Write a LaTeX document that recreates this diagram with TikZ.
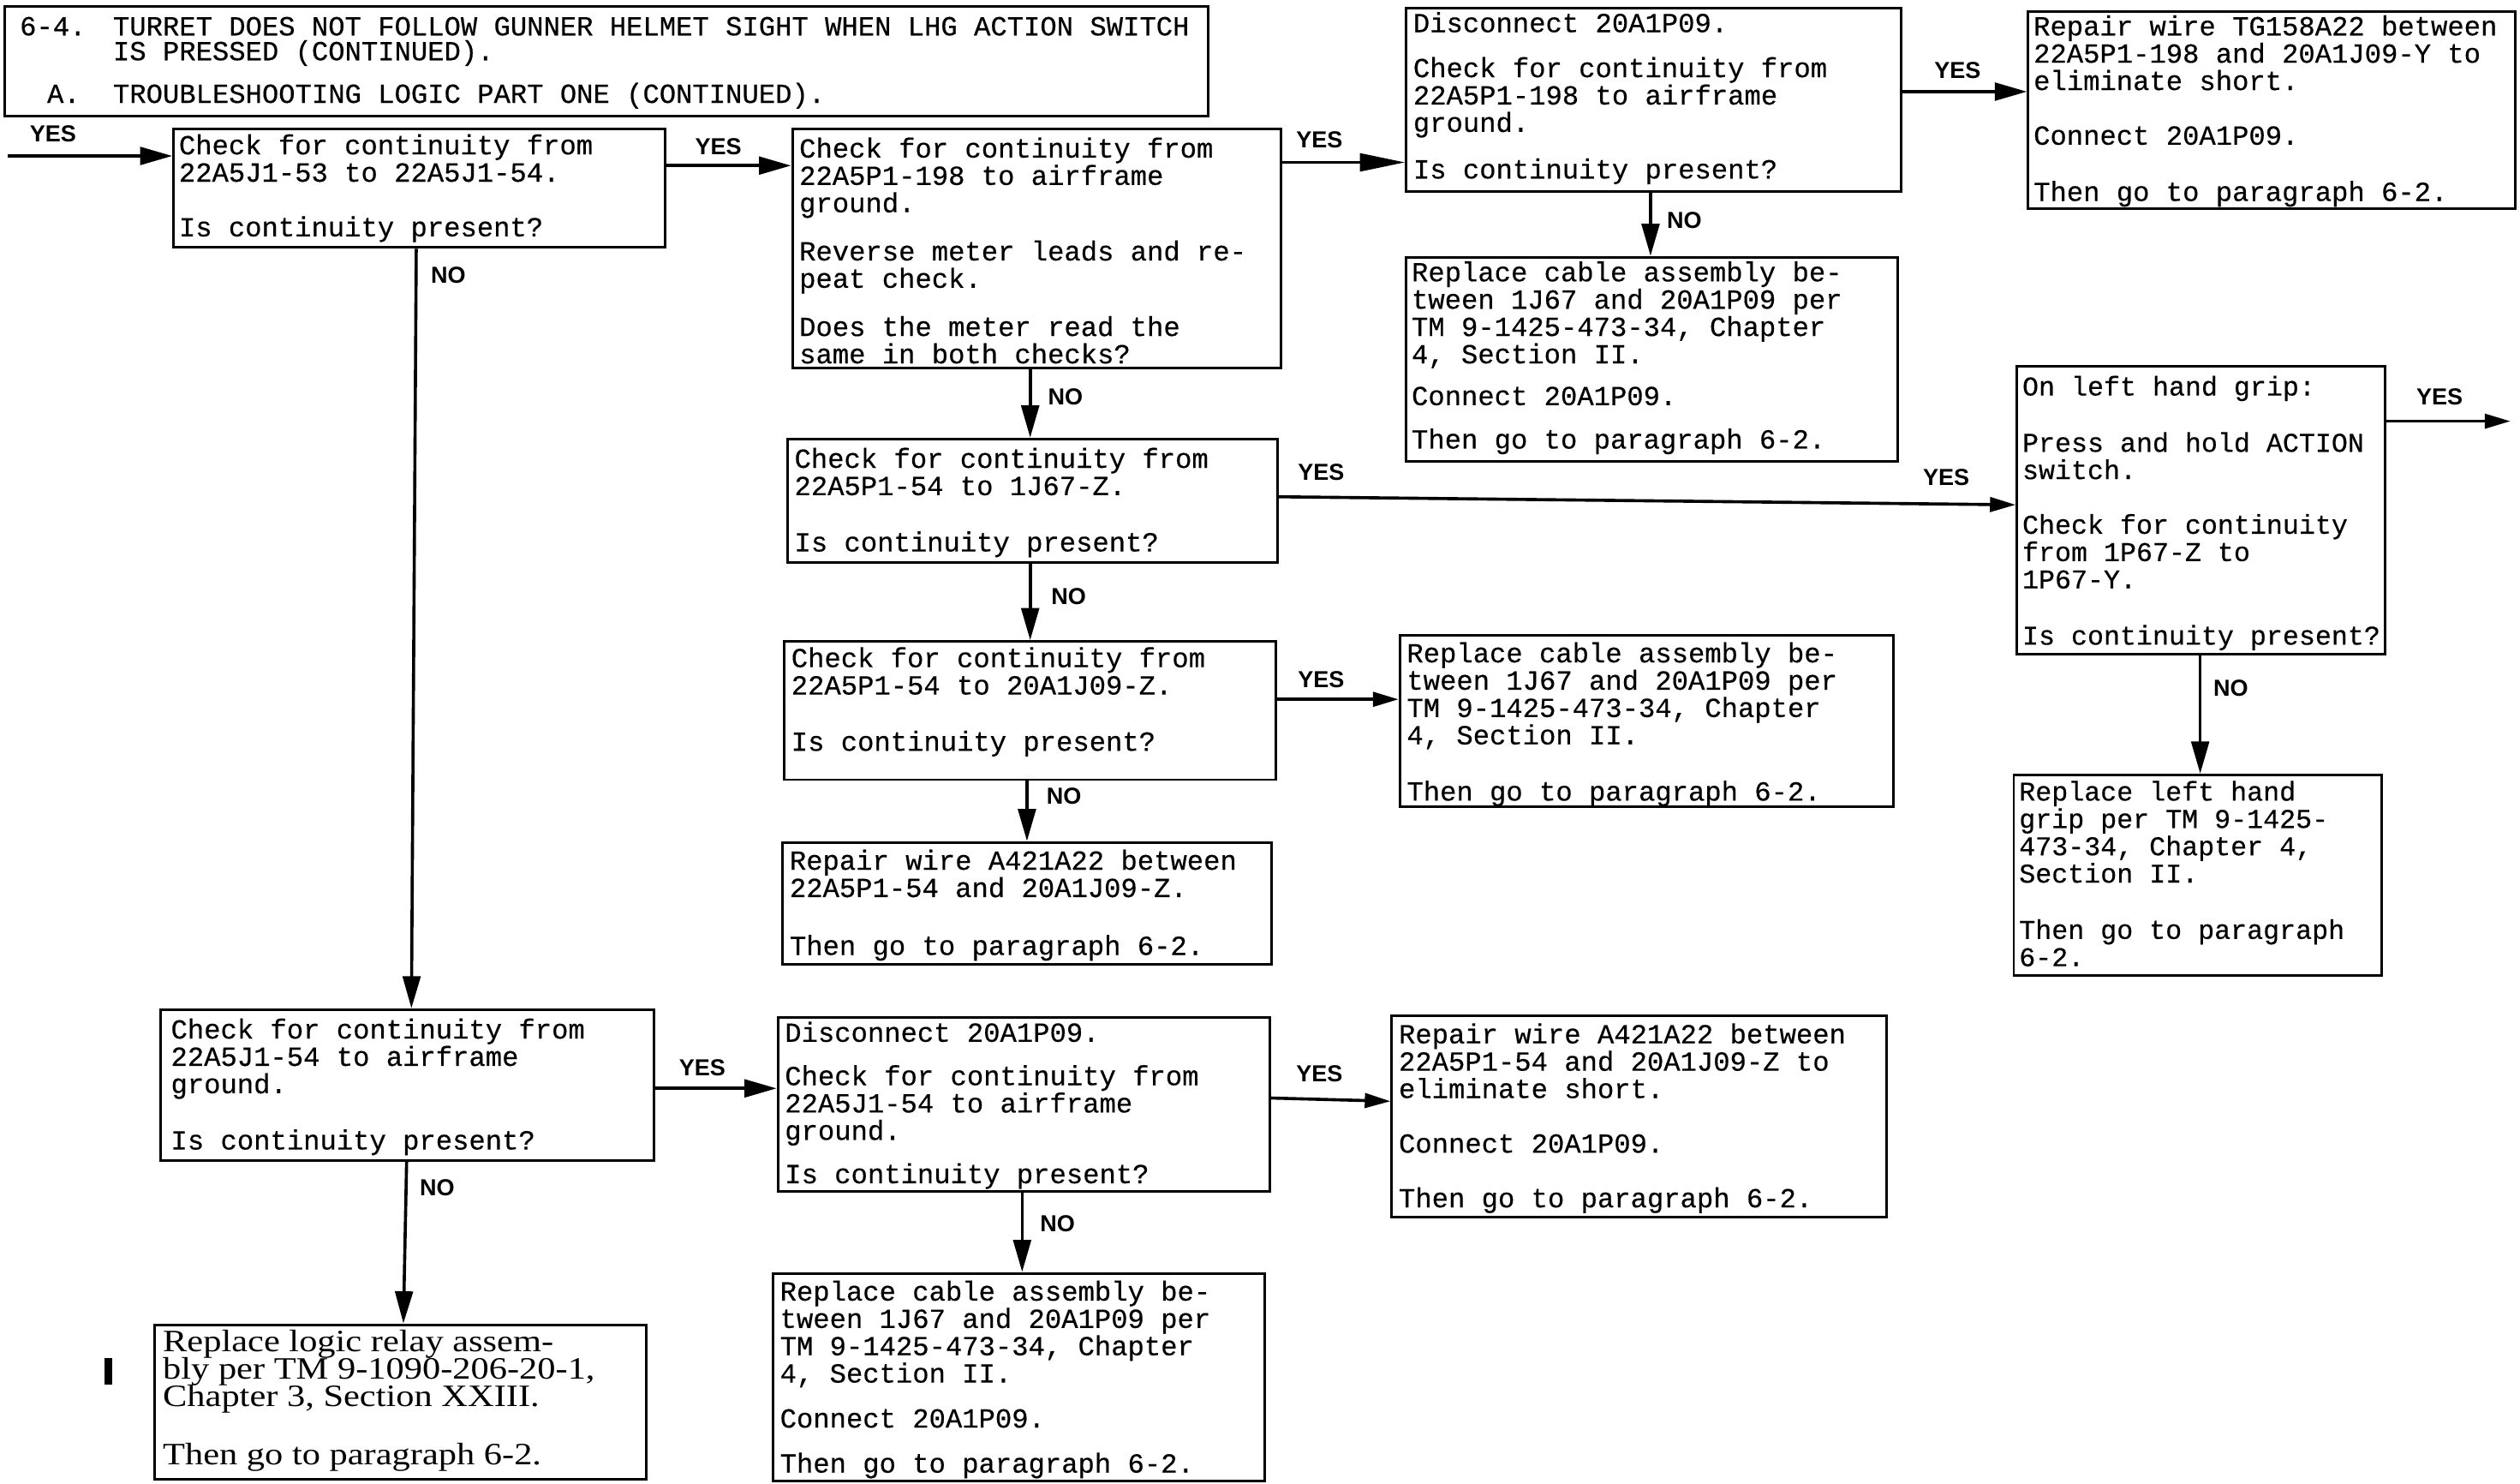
\documentclass[tikz,border=0pt]{standalone}
\usepackage{fontspec}
\usetikzlibrary{arrows.meta,fit}
\newfontfamily\twfont[FakeBold=0.4]{Liberation Mono}
\newfontfamily\labfont{Liberation Sans}
\newfontfamily\serfont[FakeStretch=1.17]{Liberation Serif}
\newcommand\mylines[1]{\vtop{\lineskiplimit=-100pt\relax\halign{##\hfil\cr#1\crcr}}}
\newcommand\gap[1]{\noalign{\vskip#1}}
\begin{document}
\begin{tikzpicture}[x=0.2mm,y=-0.2mm,
  bx/.style={draw,line width=0.9pt,inner sep=0pt},
  txt/.style={inner sep=0pt,anchor=base west,font=\twfont\fontsize{9.77}{9.674}\selectfont},
  txtg/.style={txt,font=\twfont\fontsize{9.6}{9.674}\selectfont},
  ttl/.style={inner sep=0pt,anchor=base west,font=\twfont\fontsize{9.77}{8.8}\selectfont},
  sertxt/.style={inner sep=0pt,anchor=base west,font=\serfont\fontsize{11}{9.674}\selectfont},
  lab/.style={inner sep=0pt,font=\labfont\bfseries\fontsize{8.2}{9}\selectfont},
  arr/.style={line width=1.1pt,-{Triangle[length=4mm,width=2.2mm]}},
  arrl/.style={line width=1.1pt,-{Triangle[length=5.6mm,width=2.2mm]}},
  arrs/.style={line width=1.1pt,-{Triangle[length=3.2mm,width=1.8mm]}}]
\useasboundingbox (0,0) rectangle (1568,923);

% header
\node[bx,fit={(3,4)(752,72)}] (H0) {};
\node[ttl] (h1) at (12,22) {6-4.};
\node[ttl] (h2) at (70,22) {\mylines{TURRET DOES NOT FOLLOW GUNNER HELMET SIGHT WHEN LHG ACTION SWITCH\cr IS PRESSED (CONTINUED).}};
\node[ttl] (h3) at (29,64) {A.};
\node[ttl] (h4) at (70,64) {TROUBLESHOOTING LOGIC PART ONE (CONTINUED).};

% boxes
\node[bx,fit={(108,80)(414,154)}] (A) {};
\node[txt] (At) at (111,96) {\mylines{Check for continuity from\cr 22A5J1-53 to 22A5J1-54.\cr\gap{3.4mm}Is continuity present?}};

\node[bx,fit={(493,80)(797,229)}] (B) {};
\node[txt] (Bt) at (497,98) {\mylines{Check for continuity from\cr 22A5P1-198 to airframe\cr ground.\cr\gap{2.6mm}Reverse meter leads and re-\cr peat check.\cr\gap{2.6mm}Does the meter read the\cr same in both checks?}};

\node[bx,fit={(875,5)(1183,119)}] (C) {};
\node[txt] (Ct) at (879,20) {\mylines{Disconnect 20A1P09.\cr\gap{2.2mm}Check for continuity from\cr 22A5P1-198 to airframe\cr ground.\cr\gap{2.4mm}Is continuity present?}};

\node[bx,fit={(1262,7)(1565,130)}] (D) {};
\node[txt] (Dt) at (1265,22) {\mylines{Repair wire TG158A22 between\cr 22A5P1-198 and 20A1J09-Y to\cr eliminate short.\cr\gap{3.4mm}Connect 20A1P09.\cr\gap{3.6mm}Then go to paragraph 6-2.}};

\node[bx,fit={(875,160)(1181,287)}] (E) {};
\node[txt] (Et) at (878,175) {\mylines{Replace cable assembly be-\cr tween 1J67 and 20A1P09 per\cr TM 9-1425-473-34, Chapter\cr 4, Section II.\cr\gap{1.8mm}Connect 20A1P09.\cr\gap{2.0mm}Then go to paragraph 6-2.}};

\node[bx,fit={(490,273)(795,350)}] (F) {};
\node[txt] (Ft) at (494,291) {\mylines{Check for continuity from\cr 22A5P1-54 to 1J67-Z.\cr\gap{3.6mm}Is continuity present?}};

\node[bx,fit={(1255,228)(1484,407)}] (G) {};
\node[txtg] (Gt) at (1258,246) {\mylines{On left hand grip:\cr\gap{3.6mm}Press and hold ACTION\cr switch.\cr\gap{3.4mm}Check for continuity\cr from 1P67-Z to\cr 1P67-Y.\cr\gap{3.6mm}Is continuity present?}};

\node[bx,fit={(1253,482)(1482,607)}] (H) {};
\node[txtg] (Ht) at (1256,498) {\mylines{Replace left hand\cr grip per TM 9-1425-\cr 473-34, Chapter 4,\cr Section II.\cr\gap{3.6mm}Then go to paragraph\cr 6-2.}};

\node[bx,fit={(488,399)(794,485)}] (I) {};
\node[txt] (It) at (492,415) {\mylines{Check for continuity from\cr 22A5P1-54 to 20A1J09-Z.\cr\gap{3.6mm}Is continuity present?}};

\node[bx,fit={(871,395)(1178,502)}] (J) {};
\node[txt] (Jt) at (875,412) {\mylines{Replace cable assembly be-\cr tween 1J67 and 20A1P09 per\cr TM 9-1425-473-34, Chapter\cr 4, Section II.\cr\gap{3.6mm}Then go to paragraph 6-2.}};

\node[bx,fit={(487,524)(791,600)}] (K) {};
\node[txt] (Kt) at (491,541) {\mylines{Repair wire A421A22 between\cr 22A5P1-54 and 20A1J09-Z.\cr\gap{3.8mm}Then go to paragraph 6-2.}};

\node[bx,fit={(100,628)(407,722)}] (L) {};
\node[txt] (Lt) at (106,646) {\mylines{Check for continuity from\cr 22A5J1-54 to airframe\cr ground.\cr\gap{3.6mm}Is continuity present?}};

\node[bx,fit={(484,633)(790,741)}] (M) {};
\node[txt] (Mt) at (488,648) {\mylines{Disconnect 20A1P09.\cr\gap{2.0mm}Check for continuity from\cr 22A5J1-54 to airframe\cr ground.\cr\gap{2.0mm}Is continuity present?}};

\node[bx,fit={(866,632)(1174,757)}] (N) {};
\node[txt] (Nt) at (870,649) {\mylines{Repair wire A421A22 between\cr 22A5P1-54 and 20A1J09-Z to\cr eliminate short.\cr\gap{3.4mm}Connect 20A1P09.\cr\gap{3.4mm}Then go to paragraph 6-2.}};

\node[bx,fit={(481,792)(787,921)}] (O) {};
\node[txt] (Ot) at (485,809) {\mylines{Replace cable assembly be-\cr tween 1J67 and 20A1P09 per\cr TM 9-1425-473-34, Chapter\cr 4, Section II.\cr\gap{2.2mm}Connect 20A1P09.\cr\gap{2.2mm}Then go to paragraph 6-2.}};

\node[bx,fit={(96,824)(402,920)}] (P) {};
\node[sertxt] (Pt) at (101,841) {\mylines{Replace logic relay assem-\cr bly per TM 9-1090-206-20-1,\cr Chapter 3, Section XXIII.\cr\gap{3.8mm}Then go to paragraph 6-2.}};

% change bar
\fill (65,845) rectangle (70,861);

% connectors
\coordinate (in) at (5,97);
\coordinate (gout) at (1562,262);
\draw[arr] (in) -- (A.west |- in);
\draw[arr] (A.east |- 0,103) -- (B.west |- 0,103);
\draw[arrl] (B.east |- 0,101) -- (C.west |- 0,101);
\draw[arr] (C.east |- 0,57) -- (D.west |- 0,57);
\draw[arr] (C.south -| 1027,0) -- (E.north -| 1027,0);
\draw[arr] (B.south -| 641,0) -- (F.north -| 641,0);
\draw[arrs] (F.east |- 0,309) -- (G.west |- 0,314);
\draw[arrs] (G.east |- gout) -- (gout);
\draw[arr] (G.south -| 1369,0) -- (H.north -| 1369,0);
\draw[arr] (F.south -| 641,0) -- (I.north -| 641,0);
\draw[arrs] (I.east |- 0,435) -- (J.west |- 0,435);
\draw[arr] (I.south -| 639,0) -- (K.north -| 639,0);
\draw[arr] (A.south -| 259,0) -- (L.north -| 256,0);
\draw[arr] (L.east |- 0,677) -- (M.west |- 0,677);
\draw[arrs] (M.east |- 0,683) -- (N.west |- 0,685);
\draw[arr] (M.south -| 636,0) -- (O.north -| 636,0);
\draw[arr] (L.south -| 253,0) -- (P.north -| 251,0);

% labels
\node[lab] (y0) at (33,83) {YES};
\node[lab] (y1) at (447,91) {YES};
\node[lab] (y2) at (821,87) {YES};
\node[lab] (y3) at (1218,44) {YES};
\node[lab] (y4) at (1518,247) {YES};
\node[lab] (y5) at (822,294) {YES};
\node[lab] (y6) at (1211,297) {YES};
\node[lab] (y7) at (822,423) {YES};
\node[lab] (y8) at (437,664) {YES};
\node[lab] (y9) at (821,668) {YES};
\node[lab] (n1) at (279,171) {NO};
\node[lab] (n2) at (663,247) {NO};
\node[lab] (n3) at (1048,137) {NO};
\node[lab] (n4) at (665,371) {NO};
\node[lab] (n5) at (662,495) {NO};
\node[lab] (n6) at (1388,428) {NO};
\node[lab] (n7) at (272,739) {NO};
\node[lab] (n8) at (658,761) {NO};
\end{tikzpicture}
\end{document}
